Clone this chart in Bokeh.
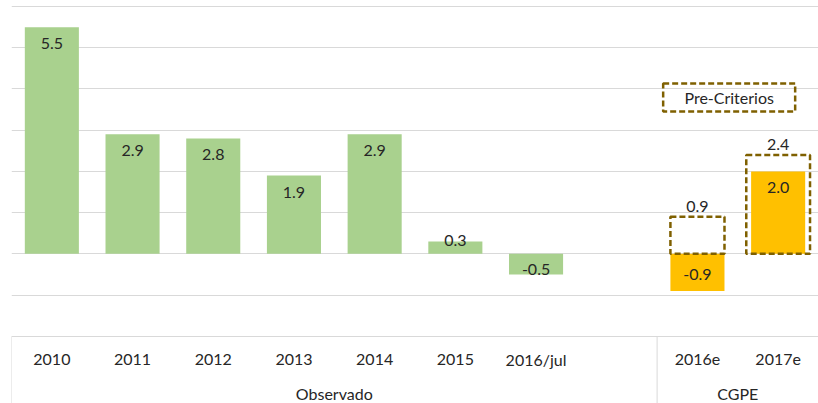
import numpy as np
from bokeh.plotting import figure
from bokeh.models import FactorRange, Range1d, FixedTicker
from bokeh.core.properties import value
from bokeh.embed import file_html
from bokeh.resources import INLINE

# ---- data ----
observed_group = "Observado"
forecast_group = "CGPE"
observed_years = ["2010", "2011", "2012", "2013", "2014", "2015", "2016/jul"]
observed_values = [5.5, 2.9, 2.8, 1.9, 2.9, 0.3, -0.5]
forecast_years = ["2016e", "2017e"]
forecast_values = [-0.9, 2.0]
precriterios_values = [0.9, 2.4]
precriterios_label = "Pre-Criterios"
blank_slot = " "
grid_ticks = [-2, -1, 0, 1, 2, 3, 4, 5, 6]

# ---- styles ----
FONT = "Lato"
TXT = "#262626"
GREEN = "#A9D18E"
ORANGE = "#FFC000"
DASH_COL = "#7F6000"
GRID = "#D9D9D9"

W, H = 818, 403
Y0, Y1 = -3.63, 6.146
k = H / (Y1 - Y0)  # px per unit

obs_factors = [(observed_group, y) for y in observed_years]
fc_factors = [(forecast_group, y) for y in forecast_years]
all_factors = obs_factors + [(observed_group, blank_slot)] + fc_factors

x_range = FactorRange(*all_factors, factor_padding=0, group_padding=0,
                      subgroup_padding=0, range_padding=0)

p = figure(width=W, height=H, x_range=x_range, y_range=Range1d(Y0, Y1),
           output_backend="svg", toolbar_location=None,
           x_axis_location=None, y_axis_location=None,
           min_border_left=11, min_border_right=0, min_border_top=0,
           min_border_bottom=0)
p.outline_line_color = None
p.xgrid.visible = False
p.ygrid.ticker = FixedTicker(ticks=grid_ticks)
p.ygrid.grid_line_color = GRID
p.ygrid.grid_line_width = 1

# table vertical lines (left edge and group separator)
sep_x = [(observed_group, observed_years[0], -0.5), (forecast_group, forecast_years[0], -0.5)]
p.segment(x0=sep_x, x1=sep_x, y0=[grid_ticks[0]] * 2, y1=[Y0] * 2,
          line_color=GRID, line_width=1)

# bars
p.vbar(x=obs_factors, top=observed_values, width=0.67, fill_color=GREEN, line_color=None)
p.vbar(x=fc_factors, top=forecast_values, width=0.67, fill_color=ORANGE, line_color=None)

# pre-criterios dashed boxes
p.vbar(x=fc_factors, top=precriterios_values, bottom=0, width=[0.67, 0.79], fill_color=None,
       line_color=DASH_COL, line_width=2.5, line_dash="6 3")

# value labels inside bars
def label_y(v):
    bar_px = abs(v) * k
    inward = min(16.5, 0.75 * bar_px - 10.5)
    return v - np.sign(v) * inward / k

lab_x = obs_factors + fc_factors
lab_v = observed_values + forecast_values
p.text(x=lab_x, y=[label_y(v) for v in lab_v], text=[f"{v:.1f}" for v in lab_v],
       text_font=value(FONT), text_font_size="16px", text_color=TXT,
       text_align="center", text_baseline="middle")

# pre-criterios value labels above boxes
p.text(x=fc_factors, y=[v + 10 / k for v in precriterios_values],
       text=[f"{v:.1f}" for v in precriterios_values],
       text_font=value(FONT), text_font_size="16px", text_color=TXT,
       text_align="center", text_baseline="middle")

# legend-like annotation box
leg_x = [(forecast_group, forecast_years[0], 0.393)]
leg_y = [3.79]
p.rect(x=leg_x, y=leg_y, width=132, height=28, width_units="screen", height_units="screen",
       fill_color=None, line_color=DASH_COL, line_width=2.5, line_dash="6 3")
p.text(x=leg_x, y=leg_y, text=[precriterios_label], text_font=value(FONT),
       text_font_size="16px", text_color=TXT, text_align="center", text_baseline="middle")

# category labels (table row) and group labels
cat_factors = obs_factors + fc_factors
p.text(x=cat_factors, y=[-2.566] * len(cat_factors),
       text=[f[1] for f in cat_factors], text_font=value(FONT), text_font_size="16px",
       text_color=TXT, text_align="center", text_baseline="middle")
p.text(x=[observed_group, forecast_group], y=[-3.39, -3.39],
       text=[observed_group, forecast_group], text_font=value(FONT), text_font_size="16px",
       text_color=TXT, text_align="center", text_baseline="middle")

open("out.html", "w").write(file_html(p, INLINE))
